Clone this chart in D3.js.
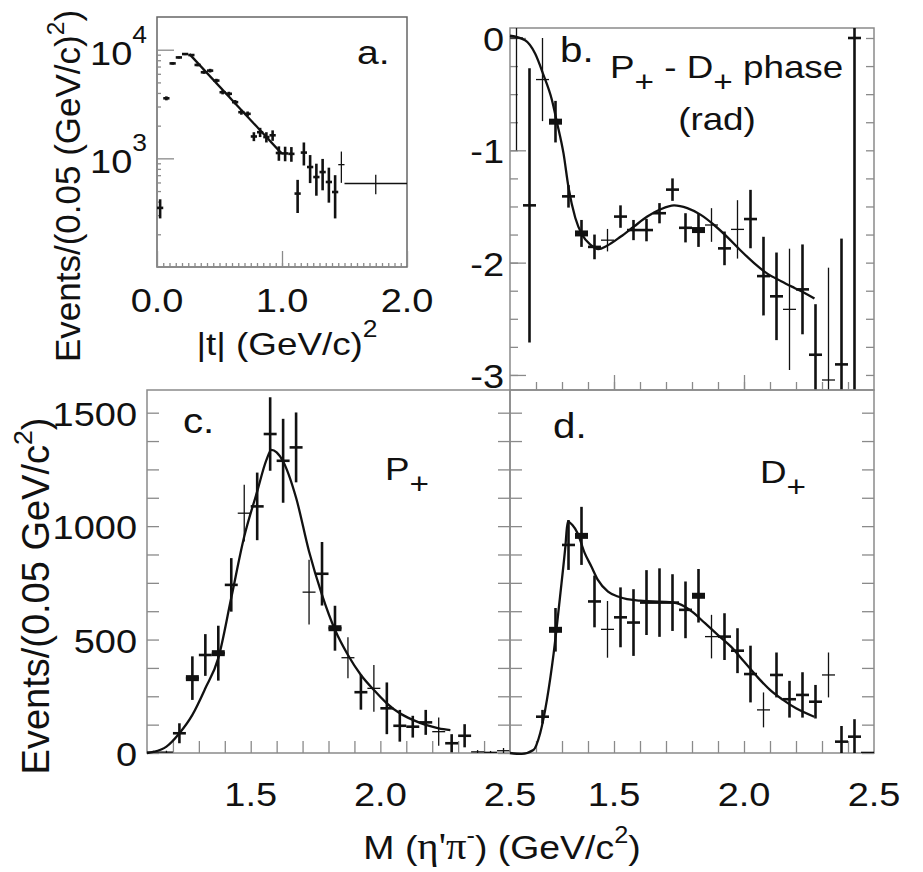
<!DOCTYPE html>
<html>
<head>
<meta charset="utf-8">
<script src="https://cdn.jsdelivr.net/npm/d3@7"></script>
<style>
  body { margin: 0; background: #fff; }
</style>
</head>
<body>
<svg id="chart" width="923" height="872"></svg>
<script>
// ---- panel a : |t| distribution (log scale) ----
const aT = [0.025,0.075,0.125,0.175,0.225,0.275,0.325,0.375,0.425,0.475,0.525,0.575,0.625,0.675,0.725,
            0.775,0.825,0.875,0.925,0.975,1.025,1.075,1.125,1.175,1.225,1.275,1.325,1.375,1.425,1.475,1.75];
const aEvents = [350,3570,7480,8490,9120,8930,7240,6200,6420,5200,4060,3930,3290,2660,2570,
                 1590,1740,1570,1630,1120,1110,1100,474,1130,832,673,748,606,490,875,587];
const aErr = [70,150,200,200,200,200,200,200,250,200,180,170,150,140,130,
              150,170,170,180,170,170,170,160,270,240,220,240,215,210,280,120];
const aBold = [1,1,1,1,1,1,1,1,1,1,1,1,1,1,1,1,1,1,1,1,1,1,1,1,1,1,1,1,1,0,0];
const aFitT = [0.26, 1.0];
const aFitEvents = [9100, 1100];

// ---- panel b : P+ - D+ phase ----
const bMass = [1.125,1.175,1.225,1.275,1.325,1.375,1.425,1.475,1.525,1.575,1.625,1.675,1.725,1.775,
               1.825,1.875,1.925,1.975,2.025,2.075,2.125,2.175,2.225,2.275,2.325,2.375,2.425];
const bPhase = [0.0,-1.49,-0.37,-0.745,-1.41,-1.74,-1.86,-1.80,-1.59,-1.71,-1.71,-1.56,-1.35,-1.69,
                -1.71,-1.665,-1.873,-1.704,-1.612,-2.12,-2.30,-2.416,-2.238,-2.82,-3.045,-2.906,0.0];
const bErr = [1.0,1.22,0.37,0.185,0.1,0.12,0.11,0.1,0.1,0.09,0.1,0.09,0.1,0.13,
              0.15,0.15,0.15,0.26,0.26,0.35,0.39,0.54,0.4,0.45,1.0,1.12,3.3];
const bBold = [0,1,0,2,1,2,1,0,1,1,1,1,1,1,2,0,1,0,1,1,1,0,1,1,0,1,1];
const bFitMass = [1.1,1.158,1.197,1.229,1.261,1.28,1.306,1.325,1.351,1.377,1.409,1.44,1.473,1.525,1.576,
                  1.628,1.679,1.731,1.782,1.834,1.885,1.937,1.988,2.04,2.091,2.143,2.194,2.233,2.271];
const bFitPhase = [0.02,-0.02,-0.14,-0.33,-0.55,-0.745,-1.03,-1.33,-1.6,-1.75,-1.84,-1.88,-1.85,-1.77,-1.68,
                   -1.59,-1.525,-1.49,-1.515,-1.575,-1.665,-1.775,-1.894,-2.006,-2.1,-2.165,-2.225,-2.27,-2.32];

// ---- panel c : P+ wave ----
const cMass = [1.125,1.175,1.225,1.275,1.325,1.375,1.425,1.475,1.525,1.575,1.625,1.675,1.725,1.775,
               1.825,1.875,1.925,1.975,2.025,2.075,2.125,2.175,2.225,2.275,2.325,2.375,2.425,2.475];
const cEvents = [4,4,87,330,432,440,741,1057,1087,1406,1288,1347,709,790,
                 550,420,268,285,197,120,116,135,94,43,76,5,3,10];
const cErr = [6,6,44,96,92,121,118,125,149,162,185,154,143,140,
              99,90,77,103,114,70,48,55,62,40,51,8,6,12];
const cBold = [0,0,1,2,1,2,1,0,1,1,1,1,0,1,2,0,1,0,1,1,1,1,0,1,1,0,0,0];
const cFitMass = [1.1,1.125,1.175,1.225,1.275,1.325,1.375,1.425,1.475,1.525,1.56,1.58,1.6,1.625,1.675,
                  1.725,1.775,1.825,1.875,1.925,1.975,2.025,2.075,2.125,2.175,2.225,2.27];
const cFitEvents = [0,5,28,87,168,285,418,684,954,1153,1290,1336,1325,1285,1125,
                    888,697,543,432,344,278,219,175,146,124,109,101];

// ---- panel d : D+ wave ----
const dMass = [1.225,1.275,1.325,1.375,1.425,1.475,1.525,1.575,1.625,1.675,1.725,1.775,1.825,
               1.875,1.925,1.975,2.025,2.075,2.125,2.175,2.225,2.275,2.325,2.375,2.425,2.475];
const dEvents = [160,543,917,957,668,545,598,575,663,663,663,631,693,
                 513,513,451,348,190,344,237,256,226,344,50,72,0];
const dErr = [30,96,110,128,114,125,132,147,143,151,125,125,118,
              96,103,99,125,77,99,81,100,74,99,69,77,0];
const dBold = [1,2,1,2,1,0,1,1,1,1,1,1,2,0,1,1,1,0,1,1,1,1,0,1,1,1];
const dFitMass = [1.1,1.145,1.19,1.216,1.242,1.268,1.294,1.313,1.322,1.34,1.36,1.387,1.413,1.438,1.477,1.515,
                  1.55,1.6,1.65,1.7,1.75,1.8,1.85,1.9,1.95,2.0,2.05,2.1,2.15,2.2,2.27];
const dFitEvents = [0,-4,13,87,234,440,705,910,1020,1005,969,882,822,763,711,690,
                    678,672,668,666,657,623,572,520,469,403,337,278,234,197,160];

const FRAME = '#8a8a8a';
const INK = '#111';
const FONT = '"Liberation Sans", Arial, sans-serif';
const SERIF = '"Liberation Serif", "Times New Roman", serif';
const SX = 1.15; // the scanned lettering is wider than it is tall

const svg = d3.select('#chart');

// scales
const xA = d3.scaleLinear().domain([0, 2]).range([157, 407]);
const yA = d3.scaleLog().domain([100, 20000]).range([267, 17]);
const xB = d3.scaleLinear().domain([1.1, 2.5]).range([510, 874]);
const yB = d3.scaleLinear().domain([-3.134, 0.089]).range([390, 28]);
const xC = d3.scaleLinear().domain([1.1, 2.5]).range([147, 510]);
const yC = d3.scaleLinear().domain([0, 1600]).range([753, 390]);
const xD = d3.scaleLinear().domain([1.1, 2.5]).range([510, 874]);
const yD = yC;

function label(x, y, str, size, anchor) {
  return svg.append('text')
    .attr('transform', `translate(${x},${y}) scale(${SX},1)`)
    .attr('text-anchor', anchor || 'start')
    .style('font-family', FONT)
    .style('font-size', size + 'px')
    .attr('fill', INK)
    .text(str);
}

function ticks(axisFn, scale, values, size, tx, ty) {
  const ax = axisFn(scale).tickValues(values).tickSize(size).tickFormat('');
  const g = svg.append('g').attr('transform', `translate(${tx},${ty})`).call(ax);
  g.select('.domain').remove();
  g.selectAll('line').attr('stroke', FRAME).attr('stroke-width', 1.3);
}

function frame(x, y, id, color) {
  const [x0, x1] = x.range();
  const [y1, y0] = y.range();
  svg.append('clipPath').attr('id', id)
    .append('rect').attr('x', x0).attr('y', y0).attr('width', x1 - x0).attr('height', y1 - y0);
  svg.append('rect')
    .attr('x', x0).attr('y', y0).attr('width', x1 - x0).attr('height', y1 - y0)
    .attr('fill', 'none').attr('stroke', color || FRAME).attr('stroke-width', 1.5);
}

function points(xs, ys, errs, bold, x, y, id, halfW, wide) {
  const g = svg.append('g').attr('clip-path', `url(#${id})`);
  xs.forEach((m, i) => {
    const sw = bold[i] ? 2.6 : 1.3;
    const hw = (wide && wide[0] === i) ? wide[1] : halfW;
    let lo = ys[i] - errs[i];
    if (y.base) lo = Math.max(lo, y.domain()[0]);
    if (errs[i] > 0) {
      g.append('line')
        .attr('x1', x(m)).attr('x2', x(m))
        .attr('y1', y(lo)).attr('y2', y(ys[i] + errs[i]))
        .attr('stroke', INK).attr('stroke-width', sw);
    }
    g.append('line')
      .attr('x1', x(m - hw)).attr('x2', x(m + hw))
      .attr('y1', y(ys[i])).attr('y2', y(ys[i]))
      .attr('stroke', INK).attr('stroke-width', sw);
    if (bold[i] === 2) {
      g.append('rect')
        .attr('x', x(m - hw)).attr('y', y(ys[i]) - 3)
        .attr('width', x(m + hw) - x(m - hw)).attr('height', 6)
        .attr('fill', INK);
    }
  });
}

function fit(xs, ys, x, y, curve) {
  svg.append('path')
    .datum(xs.map((m, i) => [m, ys[i]]))
    .attr('d', d3.line().x(d => x(d[0])).y(d => y(d[1])).curve(curve || d3.curveMonotoneX))
    .attr('fill', 'none').attr('stroke', INK).attr('stroke-width', 2.3);
}

// ---------- panel a ----------
frame(xA, yA, 'clipA', '#666');
ticks(d3.axisLeft, yA, [1000, 10000], -17, 157, 0);
ticks(d3.axisLeft, yA, d3.range(2, 10).map(k => k * 100).concat(d3.range(2, 10).map(k => k * 1000)), -4, 157, 0);
ticks(d3.axisBottom, xA, [0, 1, 2], -16, 0, 267);
ticks(d3.axisBottom, xA, d3.range(0.05, 2, 0.05), -4, 0, 267);
points(aT, aEvents, aErr, aBold, xA, yA, 'clipA', 0.025, [aT.length - 1, 0.25]);
fit(aFitT, aFitEvents, xA, yA, d3.curveLinear);

[0, 1, 2].forEach(v => label(xA(v), 312, v.toFixed(1), 33, 'middle'));
[[1000, '3'], [10000, '4']].forEach(([v, e]) => {
  const t = label(147, yA(v) + 15, '10', 33, 'end');
  t.append('tspan').attr('dy', -22).style('font-size', '23px').text(e);
});
label(357, 64, 'a.', 34);

// ---------- panel b ----------
frame(xB, yB, 'clipB');
ticks(d3.axisLeft, yB, [0, -1, -2, -3], -16, 510, 0);
ticks(d3.axisLeft, yB, d3.range(-3, 0.01, 0.25), -8, 510, 0);
ticks(d3.axisRight, yB, d3.range(-3, 0.01, 0.25), -8, 874, 0);
ticks(d3.axisBottom, xB, [1.5, 2.0], -15, 0, 390);
ticks(d3.axisBottom, xB, d3.range(1.2, 2.45, 0.1), -8, 0, 390);
points(bMass, bPhase, bErr, bBold, xB, yB, 'clipB', 0.025);
fit(bFitMass, bFitPhase, xB, yB);

[0, -1, -2, -3].forEach(v => label(504, yB(v) + 13, String(v), 33, 'end'));
label(560, 62, 'b.', 35);
const ph = label(610, 78, 'P', 32);
ph.append('tspan').attr('dy', 14).style('font-size', '29px').text('+');
ph.append('tspan').attr('dy', -14).text(' - D');
ph.append('tspan').attr('dy', 14).style('font-size', '29px').text('+');
ph.append('tspan').attr('dy', -14).text(' phase');
label(717, 130, '(rad)', 32, 'middle');

// ---------- panel c ----------
frame(xC, yC, 'clipC');
ticks(d3.axisLeft, yC, d3.range(0, 1600, 125), -12, 147, 0);
ticks(d3.axisRight, yC, d3.range(0, 1600, 125), -12, 510, 0);
ticks(d3.axisBottom, xC, d3.range(1.2, 2.45, 0.1), -12, 0, 753);
points(cMass, cEvents, cErr, cBold, xC, yC, 'clipC', 0.025);
fit(cFitMass, cFitEvents, xC, yC);

[0, 500, 1000, 1500].forEach(v => label(137, yC(v) + 13, String(v), 33, 'end'));
[1.5, 2.0, 2.5].forEach(v => label(xC(v), 806, v.toFixed(1), 33, 'middle'));
label(183, 433, 'c.', 35);
const pp = label(385, 480, 'P', 32);
pp.append('tspan').attr('dy', 14).style('font-size', '29px').text('+');

// ---------- panel d ----------
frame(xD, yD, 'clipD');
ticks(d3.axisLeft, yD, d3.range(0, 1600, 125), -12, 510, 0);
ticks(d3.axisRight, yD, d3.range(0, 1600, 125), -12, 874, 0);
ticks(d3.axisBottom, xD, d3.range(1.2, 2.45, 0.1), -12, 0, 753);
points(dMass, dEvents, dErr, dBold, xD, yD, 'clipD', 0.025);
fit(dFitMass, dFitEvents, xD, yD);

[1.5, 2.0, 2.5].forEach(v => label(xD(v), 806, v.toFixed(1), 33, 'middle'));
label(553, 438, 'd.', 35);
const dp = label(760, 483, 'D', 32);
dp.append('tspan').attr('dy', 14).style('font-size', '29px').text('+');

// ---------- axis titles ----------
const tA = label(287, 355, '|t| (GeV/c)', 32, 'middle');
tA.append('tspan').attr('dy', -18).style('font-size', '23px').text('2');

const mT = svg.append('text')
  .attr('transform', `translate(502,859) scale(1.1,1)`)
  .attr('text-anchor', 'middle')
  .style('font-family', FONT).style('font-size', '34px').attr('fill', INK);
mT.append('tspan').text('M (');
mT.append('tspan').style('font-family', SERIF).style('font-size', '37px').text('η\'π');
mT.append('tspan').attr('dy', -16).style('font-size', '23px').text('-');
mT.append('tspan').attr('dy', 16).text(')  (GeV/c');
mT.append('tspan').attr('dy', -16).style('font-size', '23px').text('2');
mT.append('tspan').attr('dy', 16).text(')');

function yTitle(x, y, size, main) {
  const t = svg.append('text')
    .attr('transform', `translate(${x},${y}) rotate(-90)`)
    .attr('text-anchor', 'middle')
    .style('font-family', FONT).style('font-size', size + 'px').attr('fill', INK);
  t.append('tspan').text(main);
  t.append('tspan').attr('dy', -0.45 * size).style('font-size', (size * 0.7) + 'px').text('2');
  t.append('tspan').attr('dy', 0.45 * size).text(')');
}
yTitle(80, 186, 35, 'Events/(0.05 (GeV/c)');
yTitle(49, 596, 38, 'Events/(0.05 GeV/c');
</script>
</body>
</html>
